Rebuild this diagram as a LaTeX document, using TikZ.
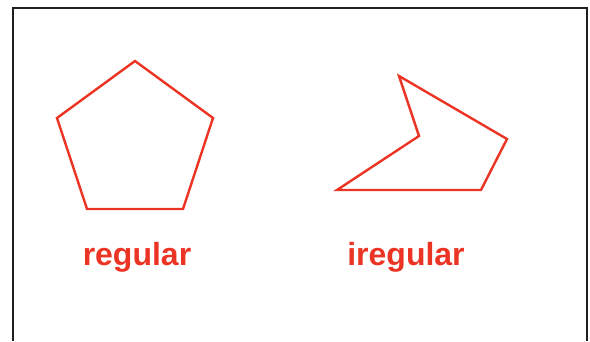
\documentclass[tikz,border=0pt]{standalone}
\usepackage{fontspec}
\setmainfont{Liberation Sans}
\usetikzlibrary{positioning}
\definecolor{shapered}{RGB}{236,52,36}
\definecolor{framegray}{RGB}{35,31,32}

\begin{document}
\begin{tikzpicture}[x=1pt,y=-1pt,
    outline/.style={draw=shapered,line width=2.4pt,line join=miter},
    polyname/.style={text=shapered,inner sep=0pt,anchor=base,
        font=\bfseries\fontsize{32}{36}\selectfont}]
    \useasboundingbox (0,0) rectangle (590,341);
    \draw[framegray,line width=2.2pt] (13,341) -- (13,8) -- (587,8) -- (587,341);

    % regular pentagon
    \coordinate (r1) at (135,61);
    \coordinate (r2) at (213,118);
    \coordinate (r3) at (183,209);
    \coordinate (r4) at (87,209);
    \coordinate (r5) at (57,118);
    \draw[outline] (r1) -- (r2) -- (r3) -- (r4) -- (r5) -- cycle;

    % irregular pentagon
    \coordinate (i1) at (399,76);
    \coordinate (i2) at (419,136);
    \coordinate (i3) at (337,190);
    \coordinate (i4) at (481,190);
    \coordinate (i5) at (507,139);
    \draw[outline] (i1) -- (i2) -- (i3) -- (i4) -- (i5) -- cycle;

    \node[polyname] (reg) at (137,265) {regular};
    \node[polyname] (irreg) at (406,265) {iregular};
\end{tikzpicture}
\end{document}
